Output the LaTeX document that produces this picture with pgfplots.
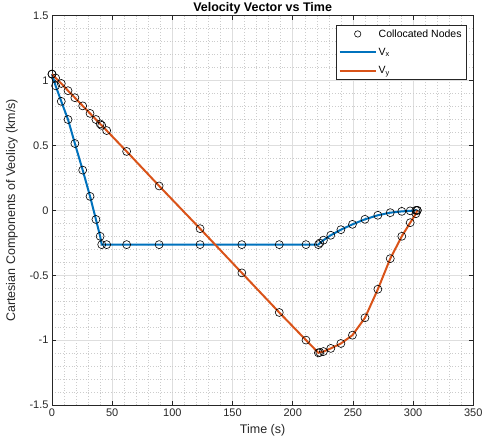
\documentclass[border=0pt]{standalone}
\usepackage{fontspec}
\setmainfont{Liberation Sans}
\usepackage{pgfplots}
\usepackage{pgfplotstable}
\pgfplotsset{compat=1.18}
\definecolor{mblue}{RGB}{0,114,189}
\definecolor{morange}{RGB}{217,83,25}
\definecolor{axgray}{RGB}{38,38,38}

% collocation nodes: time, Vx, Vy (km/s)
\pgfplotstableread{
t vx vy
0 1.05 1.05
3 0.96 1.02
7.7 0.84 0.978
13.3 0.70 0.922
19 0.515 0.868
25.5 0.31 0.805
31.6 0.108 0.747
36.5 -0.07 0.70
40 -0.20 0.666
41.3 -0.264 0.655
45.4 -0.264 0.615
62 -0.264 0.454
89 -0.264 0.188
123 -0.264 -0.141
157.7 -0.264 -0.482
188.8 -0.264 -0.787
211 -0.264 -1.0
221.3 -0.264 -1.098
222.5 -0.252 -1.095
225.5 -0.23 -1.088
231.6 -0.192 -1.064
240 -0.149 -1.026
249.6 -0.108 -0.962
260 -0.069 -0.828
270.7 -0.038 -0.608
281 -0.018 -0.372
290.6 -0.008 -0.2
297.6 -0.004 -0.095
302.3 0 -0.026
303.5 0 0
}\nodes

\begin{document}
\begin{tikzpicture}
\begin{axis}[
  at={(52pt,41pt)}, anchor=south west,
  scale only axis, width=421.3pt, height=389.3pt,
  xmin=0, xmax=350, ymin=-1.5, ymax=1.5,
  xtick={0,50,...,350}, ytick={-1.5,-1,...,1.5},
  xticklabels={0,50,100,150,200,250,300,350},
  yticklabels={-1.5,-1,-0.5,0,0.5,1,1.5},
  minor x tick num=4, minor y tick num=4,
  grid=both,
  major grid style={color=black!13, line width=0.6pt},
  minor grid style={color=black!20, dash pattern=on 0.6pt off 2.2pt, line width=0.5pt},
  tick align=inside, tick pos=both,
  major tick length=4pt, minor tick length=0pt,
  axis line style={axgray, line width=0.5pt},
  every tick/.style={axgray, line width=0.5pt},
  tick label style={font=\fontsize{11}{12}\selectfont, text=axgray},
  xlabel={Time (s)},
  ylabel={Cartesian Components of Veolicy (km/s)},
  label style={font=\fontsize{12.5}{14}\selectfont, text=axgray},
  xlabel style={at={(axis description cs:0.5,-0.064)}, anchor=center},
  ylabel style={at={(axis description cs:-0.095,0.5)}, anchor=center},
  title={\bfseries Velocity Vector vs Time},
  every axis title shift=0pt,
  title style={at={(axis description cs:0.5,1.019)}, anchor=center, yshift=0pt,
    font=\fontsize{12.5}{14}\selectfont},
  legend style={at={(axis description cs:1,1)}, anchor=north east, xshift=-7pt, yshift=-9pt,
    font=\fontsize{10.5}{12}\selectfont, draw=axgray, fill=white,
    row sep=5.5pt, inner sep=2.5pt},
  legend cell align=left,
  clip=false,
]
\addplot[only marks, mark=o, mark size=4pt, black, line width=0.6pt,
  legend image code/.code={\draw[black, line width=0.6pt] (18pt,0pt) circle (3.2pt);}]
  table[x=t, y=vx]{\nodes};
\addlegendentry{Collocated Nodes}
\addplot[only marks, mark=o, mark size=4pt, black, line width=0.6pt, forget plot]
  table[x=t, y=vy]{\nodes};
\addplot[mblue, line width=2pt,
  legend image code/.code={\draw[mblue, line width=2pt] (0pt,0pt) -- (36pt,0pt);}]
  table[x=t, y=vx]{\nodes};
\addlegendentry{V\textsubscript{x}}
\addplot[morange, line width=2pt,
  legend image code/.code={\draw[morange, line width=2pt] (0pt,0pt) -- (36pt,0pt);}]
  table[x=t, y=vy]{\nodes};
\addlegendentry{V\textsubscript{y}}
\end{axis}
\pgfresetboundingbox
\path[use as bounding box] (0pt,0pt) rectangle (484pt,446pt);
\end{tikzpicture}
\end{document}
